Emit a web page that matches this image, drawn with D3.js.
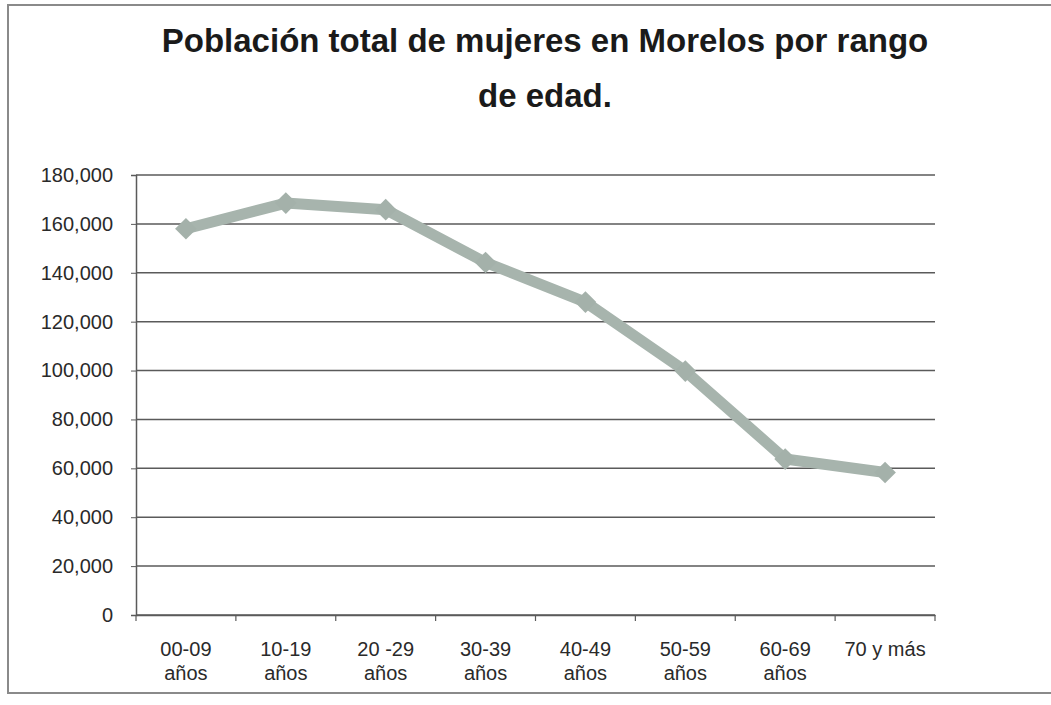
<!DOCTYPE html>
<html>
<head>
<meta charset="utf-8">
<script src="https://cdn.jsdelivr.net/npm/d3@7"></script>
<style>
  body { margin: 0; background: #fff; }
  svg { display: block; font-family: "Liberation Sans", Arial, sans-serif; }
</style>
</head>
<body>
<div id="chart"></div>
<script>
// Datos
const categories = ["00-09 años", "10-19 años", "20 -29 años", "30-39 años", "40-49 años", "50-59 años", "60-69 años", "70 y más"];
const values = [158000, 168500, 165800, 144200, 128000, 99800, 63800, 58300];
const yTicks = [0, 20000, 40000, 60000, 80000, 100000, 120000, 140000, 160000, 180000];

const W = 1051, H = 705;
const margin = {top: 175, right: 116, bottom: 90, left: 136};
const width = W - margin.left - margin.right,
      height = H - margin.top - margin.bottom;

const svg = d3.select("#chart").append("svg")
    .attr("width", W).attr("height", H);

// marco del gráfico
svg.append("rect")
    .attr("x", 8).attr("y", 5).attr("width", W + 10).attr("height", 688)
    .attr("fill", "none").attr("stroke", "#8a8a8a").attr("stroke-width", 2);

// título
const title = svg.append("text")
    .attr("text-anchor", "middle")
    .attr("font-weight", "bold").attr("font-size", 33).attr("fill", "#1a1a1a");
title.append("tspan").attr("x", 545).attr("y", 52).text("Población total de mujeres en Morelos por rango");
title.append("tspan").attr("x", 545).attr("y", 107).text("de edad.");

const g = svg.append("g").attr("transform", `translate(${margin.left},${margin.top})`);

const x = d3.scaleBand().domain(categories).range([0, width]);
const y = d3.scaleLinear().domain([0, 180000]).range([height, 0]);

// líneas de cuadrícula
g.append("g")
    .selectAll("line")
    .data(yTicks)
    .join("line")
    .attr("x1", 0).attr("x2", width)
    .attr("y1", d => y(d)).attr("y2", d => y(d))
    .attr("stroke", "#5a5a5a").attr("stroke-width", 1.5);

// eje Y
const yAxis = g.append("g")
    .call(d3.axisLeft(y).tickValues(yTicks).tickSize(5).tickPadding(18).tickFormat(d3.format(",")));
yAxis.select(".domain").attr("stroke", "#5a5a5a").attr("stroke-width", 1.5);
yAxis.selectAll(".tick line").attr("stroke", "#5a5a5a");
yAxis.selectAll("text").attr("font-size", 20).attr("fill", "#2a2a2a")
    .attr("font-family", "'Liberation Sans', Arial, sans-serif");

// eje X
const xAxis = g.append("g")
    .attr("transform", `translate(0,${height})`)
    .call(d3.axisBottom(x).tickSize(0).tickPadding(27));
xAxis.select(".domain").attr("stroke", "#5a5a5a").attr("stroke-width", 1.5);
xAxis.selectAll("text").attr("font-size", 20).attr("fill", "#2a2a2a")
    .attr("font-family", "'Liberation Sans', Arial, sans-serif")
    .each(function(d) {
        const t = d3.select(this);
        const parts = d.endsWith(" años") ? [d.replace(" años", ""), "años"] : [d];
        t.text(null);
        parts.forEach((p, i) => t.append("tspan").attr("x", 0).attr("dy", i === 0 ? "0.71em" : "1.2em").text(p));
    });

// marcas de separación de categorías
g.append("g")
    .selectAll("line")
    .data(d3.range(categories.length + 1))
    .join("line")
    .attr("x1", i => i * x.step()).attr("x2", i => i * x.step())
    .attr("y1", height).attr("y2", height + 6)
    .attr("stroke", "#5a5a5a").attr("stroke-width", 1.2);

// serie
const cx = d => x(d) + x.bandwidth() / 2;
const line = d3.line().x((d, i) => cx(categories[i])).y(d => y(d));
g.append("path")
    .datum(values)
    .attr("d", line)
    .attr("fill", "none")
    .attr("stroke", "#a7b4ad")
    .attr("stroke-width", 11)
    .attr("stroke-linejoin", "round");

g.append("g")
    .selectAll("path")
    .data(values)
    .join("path")
    .attr("transform", (d, i) => `translate(${cx(categories[i])},${y(d)})`)
    .attr("d", d3.symbol(d3.symbolDiamond2, 300))
    .attr("fill", "#a4b1aa");
</script>
</body>
</html>
